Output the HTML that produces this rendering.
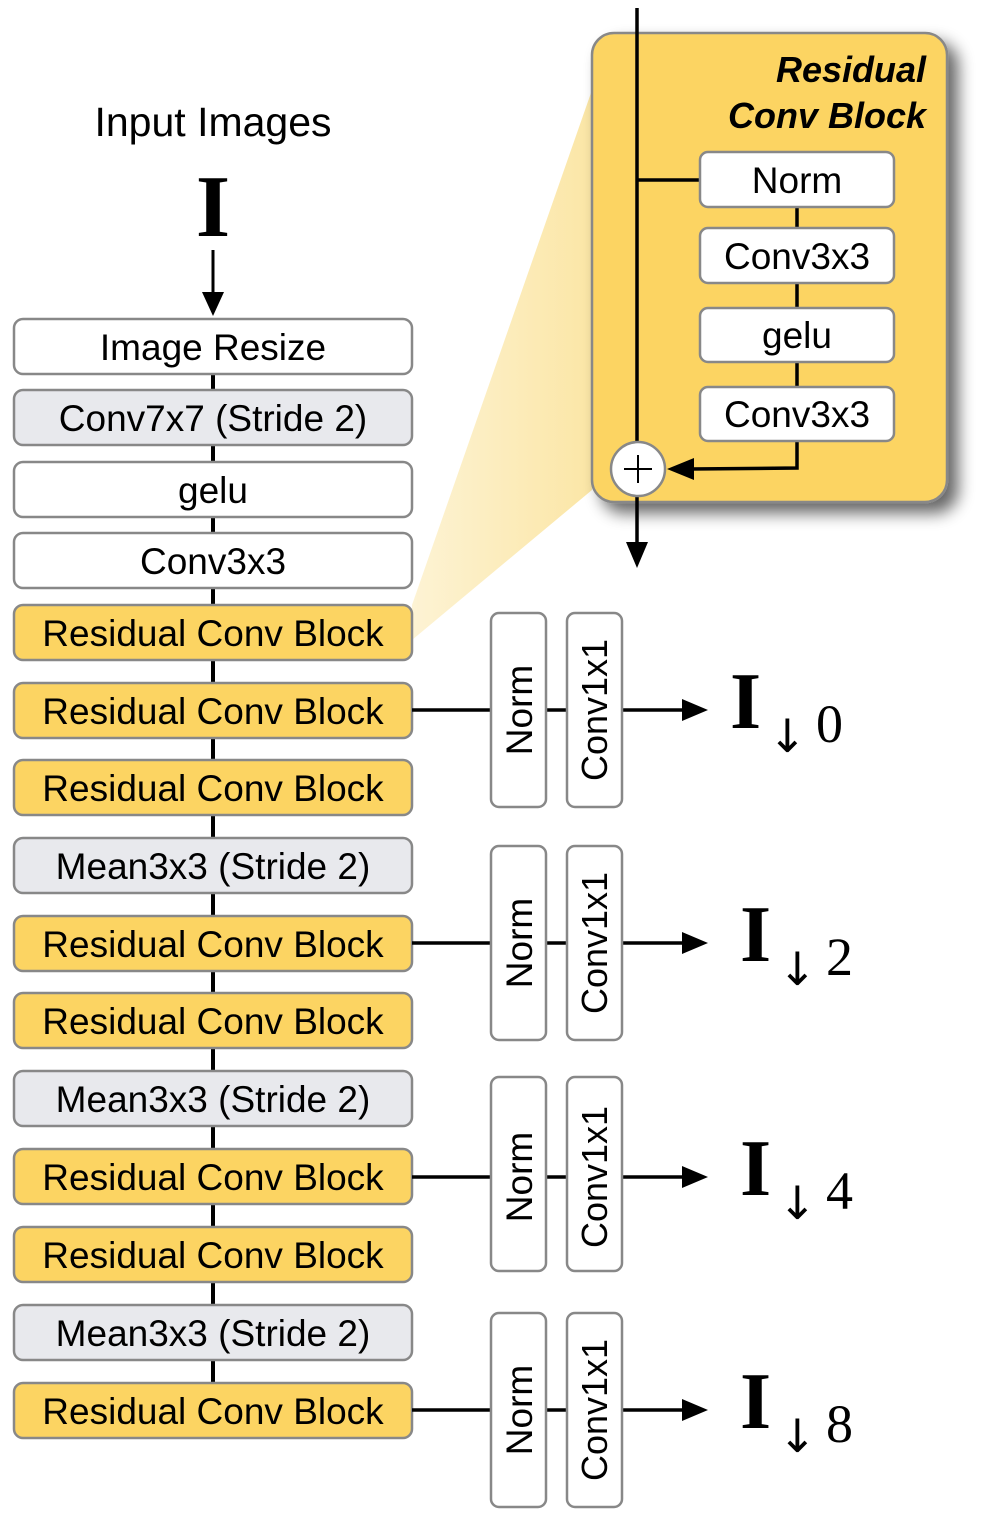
<!DOCTYPE html>
<html><head><style>
body{margin:0;background:#fff;}
svg text{font-family:"Liberation Sans",sans-serif;}
</style></head><body>
<svg width="997" height="1524" viewBox="0 0 997 1524" xmlns="http://www.w3.org/2000/svg">
<defs>
<filter id="sh" x="-20%" y="-20%" width="150%" height="150%"><feGaussianBlur in="SourceAlpha" stdDeviation="8"/><feOffset dx="10" dy="10"/><feComponentTransfer><feFuncA type="linear" slope="0.6"/></feComponentTransfer><feMerge><feMergeNode/><feMergeNode in="SourceGraphic"/></feMerge></filter>
<linearGradient id="fan" x1="0" y1="0" x2="1" y2="0"><stop offset="0" stop-color="#fdf3d4"/><stop offset="1" stop-color="#fbe6a6"/></linearGradient>
</defs>
<polygon points="412,605 412,640 592,490 592,90" fill="url(#fan)"/>
<text x="213" y="136" font-size="41" text-anchor="middle">Input Images</text>
<text x="213" y="236" font-size="88" font-weight="bold" text-anchor="middle" style="font-family:'Liberation Serif',serif">I</text>
<line x1="213" y1="250" x2="213" y2="295" stroke="#000" stroke-width="3"/>
<polygon points="202,292 224,292 213,316" fill="#000"/>
<line x1="213" y1="374" x2="213" y2="1383" stroke="#000" stroke-width="4"/>
<g stroke="#888" stroke-width="2.5">
<rect x="14" y="319" width="398" height="55" rx="9" fill="#fff"/>
<rect x="14" y="390" width="398" height="55" rx="9" fill="#e8e9ed"/>
<rect x="14" y="462" width="398" height="55" rx="9" fill="#fff"/>
<rect x="14" y="533" width="398" height="55" rx="9" fill="#fff"/>
<rect x="14" y="605" width="398" height="55" rx="9" fill="#fcd462"/>
<rect x="14" y="683" width="398" height="55" rx="9" fill="#fcd462"/>
<rect x="14" y="760" width="398" height="55" rx="9" fill="#fcd462"/>
<rect x="14" y="838" width="398" height="55" rx="9" fill="#e8e9ed"/>
<rect x="14" y="916" width="398" height="55" rx="9" fill="#fcd462"/>
<rect x="14" y="993" width="398" height="55" rx="9" fill="#fcd462"/>
<rect x="14" y="1071" width="398" height="55" rx="9" fill="#e8e9ed"/>
<rect x="14" y="1149" width="398" height="55" rx="9" fill="#fcd462"/>
<rect x="14" y="1227" width="398" height="55" rx="9" fill="#fcd462"/>
<rect x="14" y="1305" width="398" height="55" rx="9" fill="#e8e9ed"/>
<rect x="14" y="1383" width="398" height="55" rx="9" fill="#fcd462"/>
</g>
<g font-size="37" text-anchor="middle">
<text x="213" y="360">Image Resize</text>
<text x="213" y="431">Conv7x7 (Stride 2)</text>
<text x="213" y="503">gelu</text>
<text x="213" y="574">Conv3x3</text>
<text x="213" y="646">Residual Conv Block</text>
<text x="213" y="724">Residual Conv Block</text>
<text x="213" y="801">Residual Conv Block</text>
<text x="213" y="879">Mean3x3 (Stride 2)</text>
<text x="213" y="957">Residual Conv Block</text>
<text x="213" y="1034">Residual Conv Block</text>
<text x="213" y="1112">Mean3x3 (Stride 2)</text>
<text x="213" y="1190">Residual Conv Block</text>
<text x="213" y="1268">Residual Conv Block</text>
<text x="213" y="1346">Mean3x3 (Stride 2)</text>
<text x="213" y="1424">Residual Conv Block</text>
</g>
<g stroke="#000" stroke-width="3.5">
<line x1="412" y1="710" x2="688" y2="710"/><line x1="412" y1="943" x2="688" y2="943"/>
<line x1="412" y1="1177" x2="688" y2="1177"/><line x1="412" y1="1410" x2="688" y2="1410"/>
</g>
<g fill="#000">
<polygon points="682,699 682,721 708,710"/><polygon points="682,932 682,954 708,943"/>
<polygon points="682,1166 682,1188 708,1177"/><polygon points="682,1399 682,1421 708,1410"/>
</g>
<g stroke="#888" stroke-width="2.5" fill="#fff">
<rect x="491" y="613" width="55" height="194" rx="8"/><rect x="567" y="613" width="55" height="194" rx="8"/>
<rect x="491" y="846" width="55" height="194" rx="8"/><rect x="567" y="846" width="55" height="194" rx="8"/>
<rect x="491" y="1077" width="55" height="194" rx="8"/><rect x="567" y="1077" width="55" height="194" rx="8"/>
<rect x="491" y="1313" width="55" height="194" rx="8"/><rect x="567" y="1313" width="55" height="194" rx="8"/>
</g>
<g text-anchor="middle">
<text transform="translate(532,710) rotate(-90)" font-size="37">Norm</text><text transform="translate(607,710) rotate(-90)" font-size="36">Conv1x1</text>
<text transform="translate(532,943) rotate(-90)" font-size="37">Norm</text><text transform="translate(607,943) rotate(-90)" font-size="36">Conv1x1</text>
<text transform="translate(532,1177) rotate(-90)" font-size="37">Norm</text><text transform="translate(607,1177) rotate(-90)" font-size="36">Conv1x1</text>
<text transform="translate(532,1410) rotate(-90)" font-size="37">Norm</text><text transform="translate(607,1410) rotate(-90)" font-size="36">Conv1x1</text>
</g>
<g>
<text x="730" y="728" font-size="80" font-weight="bold" style="font-family:'Liberation Serif',serif">I</text>
<text x="768" y="752" font-size="46" style="font-family:'DejaVu Sans',serif">↓</text>
<text x="816" y="742" font-size="54" style="font-family:'Liberation Serif',serif">0</text>
<text x="740" y="961" font-size="80" font-weight="bold" style="font-family:'Liberation Serif',serif">I</text>
<text x="778" y="985" font-size="46" style="font-family:'DejaVu Sans',serif">↓</text>
<text x="826" y="975" font-size="54" style="font-family:'Liberation Serif',serif">2</text>
<text x="740" y="1195" font-size="80" font-weight="bold" style="font-family:'Liberation Serif',serif">I</text>
<text x="778" y="1219" font-size="46" style="font-family:'DejaVu Sans',serif">↓</text>
<text x="826" y="1209" font-size="54" style="font-family:'Liberation Serif',serif">4</text>
<text x="740" y="1428" font-size="80" font-weight="bold" style="font-family:'Liberation Serif',serif">I</text>
<text x="778" y="1452" font-size="46" style="font-family:'DejaVu Sans',serif">↓</text>
<text x="826" y="1442" font-size="54" style="font-family:'Liberation Serif',serif">8</text>
</g>
<rect x="592" y="33" width="355" height="469" rx="22" fill="#fcd462" stroke="#888" stroke-width="2.5" filter="url(#sh)"/>
<text x="926" y="82" font-size="36" font-weight="bold" font-style="italic" text-anchor="end">Residual</text>
<text x="926" y="128" font-size="36" font-weight="bold" font-style="italic" text-anchor="end">Conv Block</text>
<g stroke="#000" stroke-width="3.5" fill="none">
<line x1="637" y1="8" x2="637" y2="545"/>
<line x1="637" y1="180" x2="700" y2="180"/>
<line x1="797" y1="207" x2="797" y2="228"/><line x1="797" y1="283" x2="797" y2="308"/>
<line x1="797" y1="362" x2="797" y2="387"/>
<polyline points="797,441 797,468 690,469"/>
</g>
<polygon points="626,542 648,542 637,568" fill="#000"/>
<polygon points="667,469 694,458 694,480" fill="#000"/>
<g stroke="#888" stroke-width="2.5" fill="#fff">
<rect x="700" y="152" width="194" height="55" rx="8"/>
<rect x="700" y="228" width="194" height="55" rx="8"/>
<rect x="700" y="308" width="194" height="54" rx="8"/>
<rect x="700" y="387" width="194" height="54" rx="8"/>
<circle cx="638" cy="469" r="27"/>
</g>
<line x1="624" y1="469" x2="652" y2="469" stroke="#000" stroke-width="2"/>
<line x1="638" y1="455" x2="638" y2="483" stroke="#000" stroke-width="2"/>
<g font-size="37" text-anchor="middle">
<text x="797" y="193">Norm</text><text x="797" y="269">Conv3x3</text>
<text x="797" y="348">gelu</text><text x="797" y="427">Conv3x3</text>
</g>
</svg>
</body></html>
